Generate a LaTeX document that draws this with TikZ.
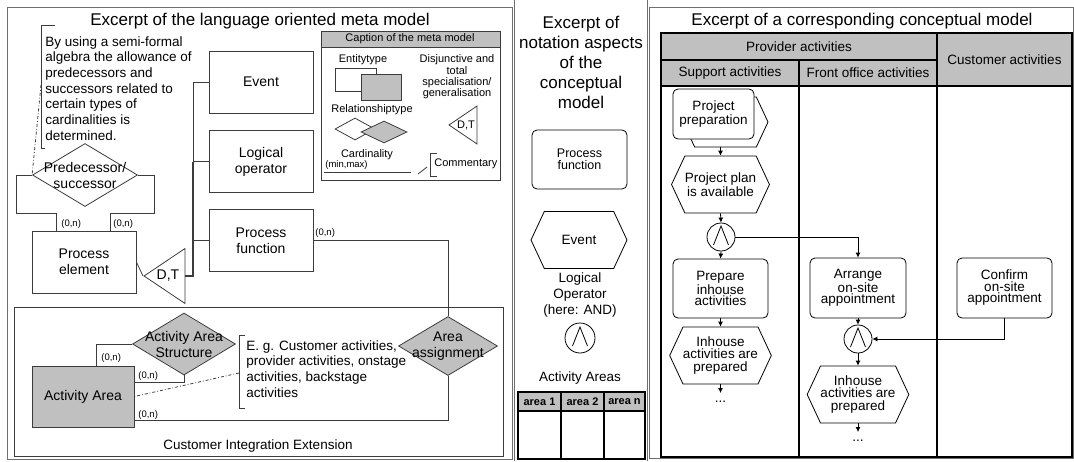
\documentclass[tikz,border=0pt]{standalone}
\usepackage{fontspec}
\setmainfont{Liberation Sans}
\usetikzlibrary{shapes.geometric,shapes.symbols,arrows.meta}

\definecolor{boxgray}{RGB}{192,192,192}
\definecolor{linegray}{RGB}{60,60,60}
\definecolor{framegray}{RGB}{110,110,110}

\newcommand\fsTitle{\fontsize{17pt}{20pt}\selectfont}
\newcommand\fsNode{\fontsize{14pt}{16pt}\selectfont}
\newcommand\fsText{\fontsize{13.5pt}{15.7pt}\selectfont}
\newcommand\fsFlow{\fontsize{13.5pt}{12.5pt}\selectfont}
\newcommand\fsSmall{\fontsize{11pt}{11.4pt}\selectfont}
\newcommand\fsCard{\fontsize{9.5pt}{10pt}\selectfont}

\tikzstyle{entity} = [rectangle,
    draw=linegray,
    minimum width=104pt,
    minimum height=62pt,
    inner sep=0pt,
    align=center,
    font=\fsNode]
\tikzstyle{relation} = [diamond,
    draw=linegray,
    inner sep=0pt]
\tikzstyle{spec} = [isosceles triangle,
    shape border rotate=180,
    isosceles triangle stretches,
    draw=linegray,
    inner sep=0pt]
\tikzstyle{card} = [font=\fsCard,
    anchor=west,
    inner sep=0pt]
\tikzstyle{func} = [rectangle,
    rounded corners=5pt,
    draw,
    fill=white,
    inner sep=0pt,
    align=center,
    font=\fsFlow]
\tikzstyle{event} = [signal,
    signal to=west and east,
    signal pointer angle=130,
    draw,
    fill=white,
    inner sep=0pt,
    align=center,
    font=\fsFlow]
\tikzstyle{andop} = [circle,
    draw,
    minimum size=28pt,
    inner sep=0pt,
    path picture={\draw ([shift={(-7.5pt,-8pt)}]path picture bounding box.center)
        -- ([shift={(0pt,11pt)}]path picture bounding box.center)
        -- ([shift={(7.5pt,-8pt)}]path picture bounding box.center);}]
\tikzstyle{more} = [inner sep=0pt,
    text height=9pt,
    text depth=0pt,
    anchor=north,
    font=\fsText]
\tikzstyle{flow} = [draw, -{Latex[length=5pt,width=5pt]}]
\tikzstyle{lane} = [line width=1.3pt]

\begin{document}
\begin{tikzpicture}[x=1pt,y=-1pt,line width=0.8pt]
\useasboundingbox (0,0) rectangle (1074,461);

% panels
\draw[framegray] (7,7) rectangle (512,459);
\draw[framegray] (514,0) -- (514,461);
\draw[framegray] (647,0) -- (647,461);
\draw[framegray] (649,7) rectangle (1073,458);

% language oriented meta model
\node[font=\fsTitle] (metaTitle) at (260,21) {Excerpt of the language oriented meta model};
\node[font=\fsText, align=left, anchor=north west, inner sep=0pt] (algebra) at (45,36)
    {By using a semi-formal\\algebra the allowance of\\predecessors and\\successors related to\\certain types of\\cardinalities is\\determined.};
\draw[linegray] (55,25) -- (41,25) -- (41,148) -- (45,148);
\coordinate (algebraTip) at (41,85);

\node[relation, minimum width=105pt, minimum height=63pt] (pred) at (85,175) {};
\node[font=\fsNode, align=center, inner sep=0pt] (predText) at (pred) {Predecessor/\\successor};
\draw[linegray, dash dot] (algebraTip) -- (pred.west);

\node[entity] (pe) at (84,262) {Process\\element};
\node[entity] (ev) at (261,82) {Event};
\node[entity] (lo) at (261,161.5) {Logical\\operator};
\node[entity] (pf) at (261,240.5) {Process\\function};
\node[spec, minimum width=55pt, minimum height=41pt, anchor=apex] (dt) at (143,276) {};
\node[font=\fsNode] (dtText) at (168,276) {D,T};
\coordinate (tree) at (193,276);

\draw[linegray] (pred.west) -| (16,213) -| ([xshift=25pt]pe.north west);
\draw[linegray] (pred.east) -| (154,213) -| ([xshift=-26pt]pe.north east);
\node[card] at (61,224) {(0,n)};
\node[card] at (113,224) {(0,n)};

\draw[linegray] (pe.east) -- (dt.apex);
\draw[linegray, line width=1.6pt] (dt.lower side) -- (tree) -- (tree |- lo.west);
\draw[linegray] (tree |- ev.west) -- (ev.west);
\draw[linegray] (tree |- ev.west) -- (tree |- lo.west) -- (lo.west);
\draw[linegray] (tree |- pf.west) -- (pf.west);

% customer integration extension
\draw[linegray] (14,307) rectangle (503,456);
\node[font=\fsText] (cieText) at (258,446) {Customer Integration Extension};

\node[entity, fill=boxgray, minimum width=102pt, minimum height=61pt] (act) at (83,396.5) {Activity Area};
\node[relation, fill=boxgray, minimum width=103pt, minimum height=62pt] (aas) at (184,344) {};
\node[font=\fsNode, align=center, inner sep=0pt] (aasText) at (aas) {Activity Area\\Structure};
\node[relation, fill=boxgray, minimum width=99pt, minimum height=59pt] (aa) at (448,346) {};
\node[font=\fsNode, align=center, inner sep=0pt] (aaText) at (aa) {Area\\assignment};

\draw[linegray] (pf.east) -| (aa.north);
\node[card] at (315,233) {(0,n)};
\draw[linegray] (aa.south) |- ([yshift=-23.5pt]act.east);
\node[card] at (138,415) {(0,n)};
\draw[linegray] (aas.west) -| ([xshift=65pt]act.north west);
\node[card] at (101,358) {(0,n)};
\draw[linegray] (aas.south) |- ([yshift=14.5pt]act.east);
\node[card] at (138,376) {(0,n)};

\node[font=\fsText, align=left, anchor=north west, inner sep=0pt] (areaNote) at (246,340)
    {E. g. Customer activities,\\provider activities, onstage\\activities, backstage\\activities};
\draw[linegray] (245,335) -- (239,335) -- (239,408) -- (245,408);
\coordinate (areaTip) at (239,373);
\draw[linegray, dash dot] (areaTip) -- (act.east);

% caption of the meta model
\draw[linegray, fill=boxgray] (321,31) rectangle (500,47);
\draw[linegray] (321,31) rectangle (500,180);
\node[font=\fsSmall] (capTitle) at (410,39) {Caption of the meta model};
\node[font=\fsSmall] (capEntity) at (363,60) {Entitytype};
\node[rectangle, draw=linegray, minimum width=41pt, minimum height=23pt, inner sep=0pt] (capEa) at (355.5,79.5) {};
\node[rectangle, draw=linegray, fill=boxgray, minimum width=40pt, minimum height=26pt, inner sep=0pt] (capEb) at (381,87) {};
\node[font=\fsSmall, align=center] (capSpec) at (457,77) {Disjunctive and\\total\\specialisation/\\generalisation};
\node[font=\fsSmall] (capRel) at (372,110) {Relationshiptype};
\node[relation, minimum width=40pt, minimum height=22pt] (capRa) at (355,129) {};
\node[relation, fill=boxgray, minimum width=46pt, minimum height=22pt] (capRb) at (384,132) {};
\node[spec, minimum width=38pt, minimum height=28pt, anchor=apex] (capDt) at (448,125) {};
\node[font=\fsSmall] (capDtText) at (466,125) {D,T};
\node[font=\fsSmall] (capCard) at (367,155) {Cardinality};
\node[card, font=\fsCard] (capMinMax) at (325,165) {(min,max)};
\draw[linegray] (324,172) -- (411,172);
\draw[linegray] (418,174) -- (427,167);
\draw[linegray] (437,153) -- (430,153) -- (430,176) -- (437,176);
\node[font=\fsSmall, anchor=west, inner sep=0pt] (capComment) at (434,164) {Commentary};

% notation aspects
\node[font=\fsTitle, align=center] (notTitle) at (581,62) {Excerpt of\\notation aspects\\of the\\conceptual\\model};
\node[func, minimum width=95pt, minimum height=59pt, font=\fontsize{12.5pt}{11.5pt}\selectfont] (notFunc) at (579.5,159.5) {Process\\function};
\node[event, minimum width=96pt, minimum height=57pt] (notEvent) at (579,240) {Event};
\node[font=\fsText, align=center] (notOp) at (580,295) {Logical\\Operator\\(here: AND)};
\node[andop, minimum size=30pt] (notAnd) at (580,338) {};
\node[font=\fsText] (notAreas) at (580,378) {Activity Areas};
\draw[fill=boxgray, line width=1.1pt] (518,392) rectangle (645,411);
\draw[line width=1.1pt] (518,392) rectangle (645,459);
\draw[line width=1.1pt] (561,392) -- (561,459);
\draw[line width=1.1pt] (604,392) -- (604,459);
\node[font=\fsSmall\bfseries] (area1) at (539.5,401.5) {area 1};
\node[font=\fsSmall\bfseries] (area2) at (582.5,401.5) {area 2};
\node[font=\fsSmall\bfseries] (arean) at (624.5,401.5) {area n};

% corresponding conceptual model
\node[font=\fsTitle] (cmTitle) at (862,21) {Excerpt of a corresponding conceptual model};
\fill[boxgray] (661,33) rectangle (1072,86);
\draw[lane] (661,33) rectangle (1072,457);
\draw[lane] (661,60) -- (937,60);
\draw[lane] (661,86) -- (1072,86);
\draw[lane] (799,60) -- (799,457);
\draw[lane] (937,33) -- (937,457);
\node[font=\fsText] (provider) at (799,46.5) {Provider activities};
\node[font=\fsText] (support) at (730,73) {Support activities};
\node[font=\fsText] (front) at (868,73) {Front office activities};
\node[font=\fsText] (customer) at (1004.5,59.5) {Customer activities};

\node[event, minimum width=85pt, minimum height=50pt] (ppBack) at (725.5,122) {};
\node[func, minimum width=81pt, minimum height=50pt, font=\fontsize{13.5pt}{12pt}\selectfont] (pp) at (713.5,114) {Project\\preparation};
\node[event, minimum width=95pt, minimum height=57pt] (ppa) at (720.5,184.5) {Project plan\\is available};
\node[andop] (and1) at (721,237) {};
\node[func, minimum width=95pt, minimum height=59pt, font=\fontsize{13.5pt}{11.5pt}\selectfont] (pia) at (720.5,288.5) {Prepare\\inhouse\\activities};
\node[event, minimum width=95pt, minimum height=57pt] (iap1) at (720.5,355.5) {Inhouse\\activities are\\prepared};
\node[more] (dots1) at (720.5,393) {...};

\node[func, minimum width=96pt, minimum height=60pt, font=\fontsize{13.5pt}{11.5pt}\selectfont] (aoa) at (858,288) {Arrange\\on-site\\appointment};
\node[andop] (and2) at (858,339) {};
\node[event, minimum width=95pt, minimum height=57pt] (iap2) at (858,394.5) {Inhouse\\activities are\\prepared};
\node[more] (dots2) at (858,432) {...};
\node[func, minimum width=95pt, minimum height=60pt, font=\fontsize{13.5pt}{11.5pt}\selectfont] (coa) at (1004.5,288) {Confirm\\on-site\\appointment};

\draw[flow] (ppa.north |- ppBack.south) -- (ppa.north);
\draw[flow] (ppa.south) -- (and1.north);
\draw[flow] (and1.south) -- (pia.north);
\draw[flow] (pia.south) -- (iap1.north);
\draw[flow] (iap1.south) -- (dots1.north);
\draw[flow] (and1.east) -| (aoa.north);
\draw[flow] (aoa.south) -- (and2.north);
\draw[flow] (coa.south) |- (and2.east);
\draw[flow] (and2.south) -- (iap2.north);
\draw[flow] (iap2.south) -- (dots2.north);
\end{tikzpicture}
\end{document}
